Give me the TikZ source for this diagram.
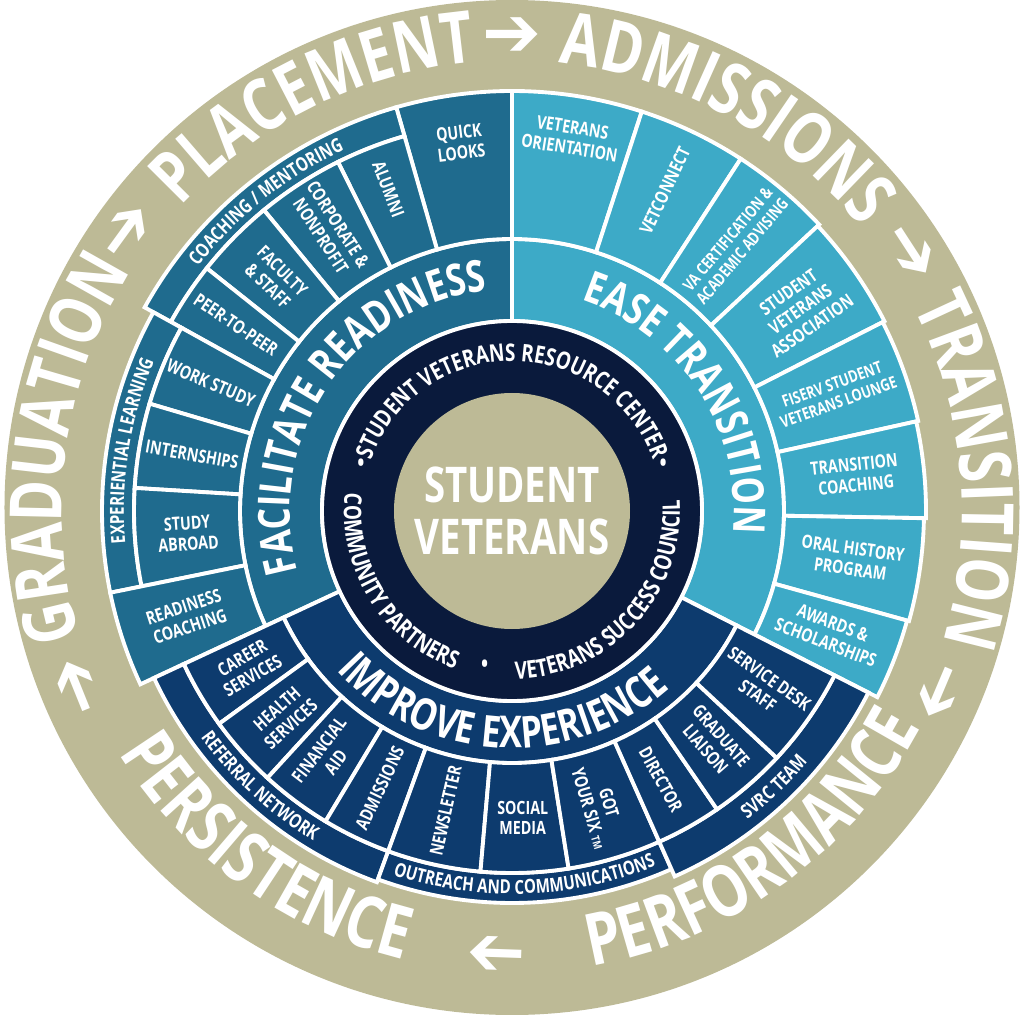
\documentclass[tikz,border=0pt]{standalone}
\usepackage{fontspec}
\usetikzlibrary{decorations.text}
\newfontfamily\cf[FakeStretch=0.78]{Open Sans}
\newfontfamily\arf{DejaVu Sans}
\definecolor{beige}{HTML}{BDBA96}
\definecolor{facil}{HTML}{1F6B8E}
\definecolor{ease}{HTML}{3DAAC7}
\definecolor{impr}{HTML}{0D3B6E}
\definecolor{darkr}{HTML}{0A1A3C}
\newcommand\annsec[5]{\fill[#5,draw=white,line width=1.1pt] (#1:#3) arc[start angle=#1,end angle=#2,radius=#3] -- (#2:#4) arc[start angle=#2,end angle=#1,radius=#4] -- cycle;}
\newcommand\bigw{\cf\bfseries\fontsize{20.5}{20.5}\selectfont}
\newcommand\midw{\cf\bfseries\fontsize{12.5}{12.5}\selectfont}
\newcommand\ringw{\cf\bfseries\fontsize{6.9}{6.9}\selectfont}
\newcommand\smw{\cf\bfseries\fontsize{5.5}{5.5}\selectfont}
\tikzset{
 cl/.style={text=white,font=\cf\bfseries\fontsize{5.2}{5.9}\selectfont,align=center,inner sep=0pt},
 cls/.style={cl,font=\cf\bfseries\fontsize{4.7}{5.4}\selectfont},
 arr/.style={text=white,font=\arf\bfseries\fontsize{20}{20}\selectfont,inner sep=0pt},
 tx/.style={decorate,decoration={text along path,text align=center,text color=white,#1}}
}
\begin{document}
\begin{tikzpicture}[x=0.01cm,y=0.01cm]
\useasboundingbox (-512,-504) rectangle (512,511);
\fill[beige] (0,3.5) circle[radius=507.5];
% middle ring
\annsec{90}{205}{190}{272}{facil}
\annsec{-27}{90}{190}{272}{ease}
\annsec{205}{333}{190}{252}{impr}
% facilitate cells
\annsec{90}{106}{272}{420}{facil}
\annsec{106}{151}{390}{420}{facil}
\annsec{106}{116.5}{272}{390}{facil}
\annsec{116.5}{129.5}{272}{390}{facil}
\annsec{129.5}{141.5}{272}{390}{facil}
\annsec{141.5}{151}{272}{390}{facil}
\annsec{151}{191.5}{378}{410}{facil}
\annsec{151}{163.5}{272}{378}{facil}
\annsec{163.5}{176.5}{272}{378}{facil}
\annsec{176.5}{191.5}{272}{378}{facil}
\annsec{191.5}{205}{272}{410}{facil}
% ease cells
\annsec{72}{90}{272}{420}{ease}
\annsec{57}{72}{272}{420}{ease}
\annsec{43}{57}{272}{420}{ease}
\annsec{27}{43}{272}{418}{ease}
\annsec{12.5}{27}{272}{416}{ease}
\annsec{-1}{12.5}{272}{414}{ease}
\annsec{-15.5}{-1}{272}{412}{ease}
\annsec{-27}{-15.5}{272}{410}{ease}
% improve cells
\annsec{205}{250}{362}{395}{impr}
\annsec{250}{294}{362}{392}{impr}
\annsec{294}{333}{362}{400}{impr}
\annsec{205}{216}{252}{362}{impr}
\annsec{216}{227.5}{252}{362}{impr}
\annsec{227.5}{239}{252}{362}{impr}
\annsec{239}{250}{252}{362}{impr}
\annsec{250}{265}{252}{362}{impr}
\annsec{265}{279}{252}{362}{impr}
\annsec{279}{294}{252}{362}{impr}
\annsec{294}{304.5}{252}{362}{impr}
\annsec{304.5}{317}{252}{362}{impr}
\annsec{317}{333}{252}{362}{impr}
% inner rings
\fill[darkr,draw=white,line width=1.1pt] (0,0) circle[radius=190];
\fill[beige] (0,0) circle[radius=118];
\node[text=white,font=\cf\bfseries\fontsize{14}{15}\selectfont,align=center,inner sep=0pt] (sv) at (0,0) {STUDENT\\VETERANS};
% ring texts
\path[tx={text={|\ringw|STUDENT VETERANS RESOURCE CENTER}}] (158:150) arc[start angle=158,end angle=22,radius=150];
\path[tx={text={|\ringw|COMMUNITY PARTNERS}}] (168:168) arc[start angle=168,end angle=256,radius=168];
\path[tx={text={|\ringw|VETERANS SUCCESS COUNCIL}}] (263:168) arc[start angle=263,end angle=372,radius=168];
\node[text=white,font=\ringw,inner sep=0pt] (d1) at (163:158) {•};
\node[text=white,font=\ringw,inner sep=0pt] (d2) at (17:158) {•};
\node[text=white,font=\ringw,inner sep=0pt] (d3) at (260:158) {•};
% middle texts
\path[tx={text={|\midw|FACILITATE READINESS}}] (215:222) arc[start angle=215,end angle=77,radius=222];
\path[tx={text={|\midw|EASE TRANSITION}}] (90:222) arc[start angle=90,end angle=-24,radius=222];
\path[tx={text={|\midw|IMPROVE EXPERIENCE}}] (205:237) arc[start angle=205,end angle=329,radius=237];
% strip texts
\path[tx={text={|\smw|COACHING / MENTORING}}] (160:398) arc[start angle=160,end angle=97,radius=398];
\path[tx={text={|\smw|EXPERIENTIAL LEARNING}}] (200:388) arc[start angle=200,end angle=142,radius=388];
\path[tx={text={|\smw|REFERRAL NETWORK}}] (200:385) arc[start angle=200,end angle=255,radius=385];
\path[tx={text={|\smw|OUTREACH AND COMMUNICATIONS}}] (240:383) arc[start angle=240,end angle=304,radius=383];
\path[tx={text={|\smw|SVRC TEAM}}] (294:388) arc[start angle=294,end angle=333,radius=388];
% facilitate labels
\node[cl,rotate=7] (ql) at (98:372) {QUICK\\LOOKS};
\node[cl,rotate=-69] (al) at (111:345) {ALUMNI};
\node[cl,rotate=-57] (co) at (123:335) {CORPORATE \&\\NONPROFIT};
\node[cl,rotate=-44.5] (fa) at (135.5:332) {FACULTY\\\& STAFF};
\node[cl,rotate=-34] (pp) at (146:333) {PEER-TO-PEER};
\node[cl,rotate=-23] (ws) at (157:327) {WORK STUDY};
\node[cl,rotate=-10] (in) at (170:325) {INTERNSHIPS};
\node[cl,rotate=4] (sa) at (184:325) {STUDY\\ABROAD};
\node[cl,rotate=18] (rc) at (198:342) {READINESS\\COACHING};
% ease labels
\node[cl,rotate=-9] (vo) at (81:378) {VETERANS\\ORIENTATION};
\node[cl,rotate=64.5] (vc) at (64.5:355) {VETCONNECT};
\node[cls,rotate=50] (va) at (50:347) {VA CERTIFICATION \&\\ACADEMIC ADVISING};
\node[cl,rotate=35] (sva) at (35:352) {STUDENT\\VETERANS\\ASSOCIATION};
\node[cls,rotate=20] (fl) at (20:344) {FISERV STUDENT\\VETERANS LOUNGE};
\node[cl,rotate=6] (tc) at (6:345) {TRANSITION\\COACHING};
\node[cl,rotate=-8] (oh) at (-8:343) {ORAL HISTORY\\PROGRAM};
\node[cl,rotate=-21] (as) at (-21:340) {AWARDS \&\\SCHOLARSHIPS};
% improve labels
\node[cl,rotate=30.5] (cs) at (210.5:307) {CAREER\\SERVICES};
\node[cl,rotate=42] (hs) at (222:307) {HEALTH\\SERVICES};
\node[cl,rotate=53] (fi) at (233:307) {FINANCIAL\\AID};
\node[cl,rotate=64.5] (ad) at (244.5:307) {ADMISSIONS};
\node[cl,rotate=77.5] (nl) at (257.5:307) {NEWSLETTER};
\node[cl] (sm) at (272:307) {SOCIAL\\MEDIA};
\node[cl,rotate=-73.5] (gy) at (286.5:307) {GOT\\YOUR SIX {\fontsize{3.2}{4}\selectfont TM}};
\node[cl,rotate=-61] (di) at (299:307) {DIRECTOR};
\node[cl,rotate=-49] (gl) at (311:307) {GRADUATE\\LIAISON};
\node[cl,rotate=-35] (sd) at (325:307) {SERVICE DESK\\STAFF};
% outer ring words
\path[tx={text={|\bigw|GRADUATION}}] (215:450) arc[start angle=215,end angle=129,radius=450];
\path[tx={text={|\bigw|PLACEMENT}}] (160:450) arc[start angle=160,end angle=72,radius=450];
\path[tx={text={|\bigw|ADMISSIONS}}] (106:450) arc[start angle=106,end angle=17,radius=450];
\path[tx={text={|\bigw|TRANSITION}}] (50:450) arc[start angle=50,end angle=-40,radius=450];
\path[tx={text={|\bigw|PERSISTENCE}}] (186:462) arc[start angle=186,end angle=282,radius=462];
\path[tx={text={|\bigw|PERFORMANCE}}] (258:462) arc[start angle=258,end angle=354,radius=462];
\node[arr,rotate=54] (a1) at (144:474) {➔};
\node[arr,rotate=0] (a2) at (90:474) {➔};
\node[arr,rotate=-57] (a3) at (33:474) {➔};
\node[arr,rotate=-113] (a4) at (-23:462) {➔};
\node[arr,rotate=178] (a5) at (268:440) {➔};
\node[arr,rotate=112] (a6) at (202:466) {➔};
\end{tikzpicture}
\end{document}
